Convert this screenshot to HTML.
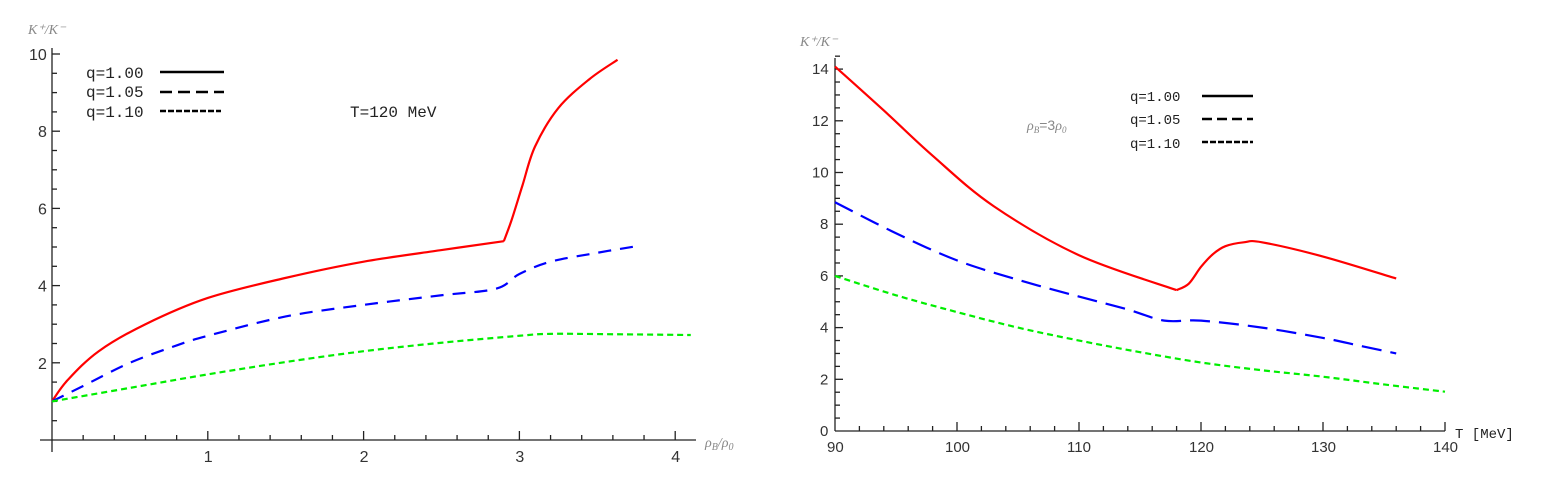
<!DOCTYPE html>
<html><head><meta charset="utf-8"><style>
html,body{margin:0;padding:0;background:#fff}
svg{display:block}
.t{font-family:"Liberation Sans",sans-serif;font-size:16px;fill:#333}
.t2{font-family:"Liberation Sans",sans-serif;font-size:15px;fill:#333}
.m{font-family:"Liberation Mono",monospace;font-size:16px;fill:#222}
.m2{font-family:"Liberation Mono",monospace;font-size:14px;fill:#222}
.g{font-family:"Liberation Serif",serif;font-style:italic;font-size:14px;fill:#888}
</style></head><body>
<svg id="s" width="1554" height="484" viewBox="0 0 1554 484" xmlns="http://www.w3.org/2000/svg">
<g id="ax" stroke="#222" stroke-width="1.3" fill="none"></g>
<g id="cv" fill="none" stroke-width="2.2" stroke-linejoin="round"></g>
<g id="tx"></g>
<text class="g" x="28" y="34">K⁺/K⁻</text>
<text class="g" x="705" y="447" font-size="16">ρ<tspan font-size="10" dy="3">B</tspan><tspan dy="-3">/ρ</tspan><tspan font-size="10" dy="3">0</tspan></text>
<text class="g" x="800" y="46">K⁺/K⁻</text>
<text class="g" x="1027" y="130">ρ<tspan font-size="9" dy="3">B</tspan><tspan dy="-3" font-style="normal" font-family="Liberation Sans">=3</tspan>ρ<tspan font-size="9" dy="3">0</tspan></text>
<text class="m2" x="1455" y="438">T [MeV]</text>
<text class="m" x="86" y="78">q=1.00</text>
<text class="m" x="86" y="97">q=1.05</text>
<text class="m" x="86" y="117">q=1.10</text>
<text class="m" x="350" y="117">T=120 MeV</text>
<text class="m2" x="1130" y="101">q=1.00</text>
<text class="m2" x="1130" y="124">q=1.05</text>
<text class="m2" x="1130" y="148">q=1.10</text>
<g stroke="#000" stroke-width="2.6">
<line x1="160" y1="72" x2="224" y2="72"/>
<line x1="160" y1="92" x2="224" y2="92" stroke-dasharray="12,6"/>
<line x1="160" y1="111" x2="221" y2="111" stroke-dasharray="6,2"/>
<line x1="1202" y1="96" x2="1253" y2="96"/>
<line x1="1202" y1="119" x2="1253" y2="119" stroke-dasharray="10,5"/>
<line x1="1202" y1="142" x2="1253" y2="142" stroke-dasharray="6,2"/>
</g>
</svg>
<script>
var NS="http://www.w3.org/2000/svg";
function el(p,t,a,txt){var e=document.createElementNS(NS,t);for(var k in a)e.setAttribute(k,a[k]);if(txt!=null)e.textContent=txt;document.getElementById(p).appendChild(e);}
var L={x0:52,sx:155.8,y0:440,sy:38.6};
function lx(v){return L.x0+v*L.sx} function ly(v){return L.y0-v*L.sy}
el("ax","line",{x1:40,y1:440,x2:696,y2:440});
el("ax","line",{x1:52,y1:48,x2:52,y2:452});
for(var i=1;i<=20;i++){var x=lx(i*0.2);el("ax","line",{x1:x,y1:440,x2:x,y2:i%5==0?431:435});}
for(var i=1;i<=4;i++)el("tx","text",{class:"t",x:lx(i)-4,y:462},i);
for(var i=1;i<=20;i++){var y=ly(i*0.5);el("ax","line",{x1:52,y1:y,x2:i%4==0?60:57,y2:y});}
for(var i=2;i<=10;i+=2)el("tx","text",{class:"t",x:i==10?29:38,y:ly(i)+6},i);
var R={x0:835,sx:12.2,y0:431,sy:25.85};
function rx(v){return R.x0+(v-90)*R.sx} function ry(v){return R.y0-v*R.sy}
el("ax","line",{x1:835,y1:431,x2:1445,y2:431});
el("ax","line",{x1:835,y1:58,x2:835,y2:431});
for(var i=1;i<=25;i++){var x=rx(90+i*2);el("ax","line",{x1:x,y1:431,x2:x,y2:i%5==0?422:426});}
for(var v=90;v<=140;v+=10)el("tx","text",{class:"t2",x:rx(v)-(v>=100?12:8),y:452},v);
for(var i=1;i<=29;i++){var y=ry(i*0.5);el("ax","line",{x1:835,y1:y,x2:i%4==0?843:840,y2:y});}
for(var v=0;v<=14;v+=2)el("tx","text",{class:"t2",x:v>=10?812:820,y:ry(v)+5},v);
function path(pts,fx,fy){var p=pts.map(function(q){return [fx(q[0]),fy(q[1])]});var d="M"+p[0][0]+","+p[0][1];
for(var i=0;i<p.length-1;i++){var p0=p[i-1]||p[i],p1=p[i],p2=p[i+1],p3=p[i+2]||p2;
d+=" C"+(p1[0]+(p2[0]-p0[0])/6)+","+(p1[1]+(p2[1]-p0[1])/6)+" "+(p2[0]-(p3[0]-p1[0])/6)+","+(p2[1]-(p3[1]-p1[1])/6)+" "+p2[0]+","+p2[1];}return d;}
function cur(pts,fx,fy,col,dash){el("cv","path",{d:path(pts,fx,fy),stroke:col,"stroke-dasharray":dash||"none"});}
cur([[0,1],[0.1,1.55],[0.3,2.3],[0.6,3.0],[1,3.68],[1.5,4.2],[2,4.62],[2.5,4.92],[2.9,5.15]],lx,ly,"#f00");
cur([[2.9,5.15],[2.95,5.7],[3.02,6.6],[3.1,7.6],[3.25,8.6],[3.45,9.35],[3.63,9.85]],lx,ly,"#f00");
cur([[0,1],[0.2,1.4],[0.5,2.0],[0.8,2.45],[1,2.7],[1.5,3.2],[2,3.5],[2.5,3.75],[2.85,3.92],[3.0,4.3],[3.2,4.62],[3.5,4.85],[3.75,5.02]],lx,ly,"#00f","13,9");
cur([[0,1],[0.5,1.35],[1,1.7],[1.5,2.02],[2,2.3],[2.5,2.52],[3,2.7],[3.2,2.75],[3.6,2.74],[4.1,2.72]],lx,ly,"#0e0","6,4");
cur([[90,14.1],[94,12.4],[98,10.65],[103,8.7],[110,6.8],[118,5.45]],rx,ry,"#f00");
cur([[118,5.45],[119,5.7],[120,6.35],[121,6.85],[122,7.15],[123.5,7.3],[125,7.3],[130,6.75],[136,5.9]],rx,ry,"#f00");
cur([[90,8.85],[95,7.65],[100,6.6],[105,5.85],[110,5.2],[114,4.7],[117,4.27],[120,4.27],[125,4.0],[130,3.6],[133,3.3],[136,3.0]],rx,ry,"#00f","20,9");
cur([[90,6.0],[95,5.25],[100,4.6],[105,4.0],[110,3.5],[115,3.05],[120,2.65],[125,2.35],[130,2.1],[135,1.8],[140,1.52]],rx,ry,"#0e0","6,4");
</script>
</body></html>
